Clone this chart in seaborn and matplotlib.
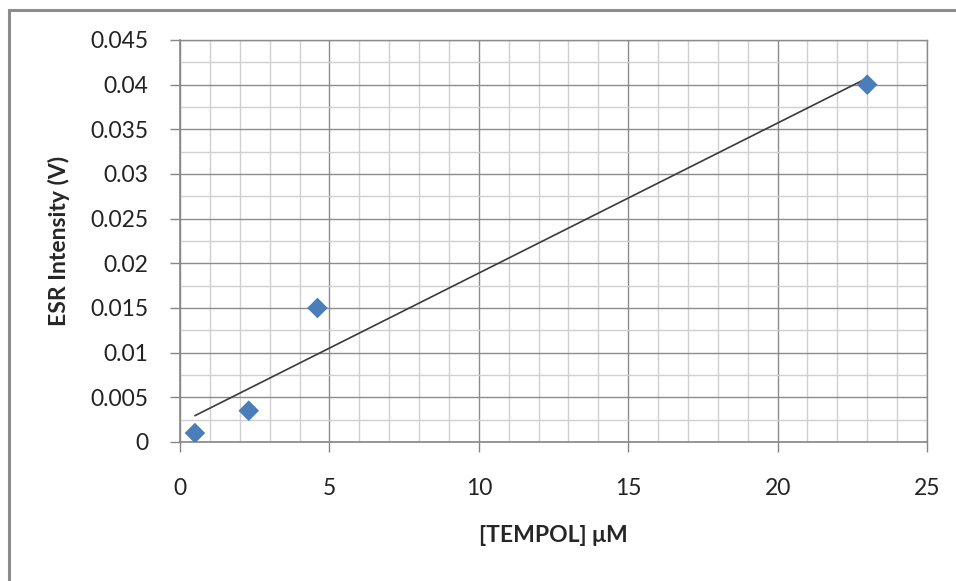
import numpy as np
import pandas as pd
import matplotlib
matplotlib.use('Agg')
import matplotlib.pyplot as plt
import seaborn as sns
from matplotlib.ticker import MultipleLocator, FuncFormatter
from matplotlib.patches import Rectangle

sns.set_style('white')
plt.rcParams['font.family'] = ['Lato', 'DejaVu Sans']

# TEMPOL concentration (uM) vs ESR intensity (V)
tempol_um = [0.5, 2.3, 4.6, 23.0]
esr_v = [0.001, 0.0035, 0.015, 0.040]

df = pd.DataFrame({'tempol': tempol_um, 'esr': esr_v})

fig = plt.figure(figsize=(9.56, 5.81), dpi=100)
ax = fig.add_axes([180 / 956, 1 - 442 / 581, (927 - 180) / 956, (442 - 40) / 581])

# excel style chart frame, only left/top visible in the crop
fig.patches.append(Rectangle((9 / 956, -0.1), 1.2, 1 - 10 / 581 + 0.1,
                             transform=fig.transFigure, fill=False,
                             edgecolor='#8c8c8c', linewidth=2.2, zorder=0))

sns.regplot(data=df, x='tempol', y='esr', ax=ax, ci=None, truncate=True,
            marker='D',
            scatter_kws={'s': 110, 'color': '#4a7ebb', 'alpha': 1,
                         'edgecolor': 'none', 'zorder': 4},
            line_kws={'color': '#3a3a3a', 'linewidth': 1.2, 'zorder': 3})

ax.set_xlim(0, 25)
ax.set_ylim(0, 0.045)
ax.xaxis.set_major_locator(MultipleLocator(5))
ax.xaxis.set_minor_locator(MultipleLocator(1))
ax.yaxis.set_major_locator(MultipleLocator(0.005))
ax.yaxis.set_minor_locator(MultipleLocator(0.0025))
ax.yaxis.set_major_formatter(FuncFormatter(lambda v, p: '%g' % round(v, 4)))

ax.grid(which='major', color='#8c8c8c', linewidth=1.0)
ax.grid(which='minor', color='#d0d0d0', linewidth=1.0)
ax.set_axisbelow(True)

for side in ['top', 'right']:
    ax.spines[side].set_color('#8c8c8c')
    ax.spines[side].set_linewidth(1.0)
for side in ['left', 'bottom']:
    ax.spines[side].set_color('#868686')
    ax.spines[side].set_linewidth(1.2)

ax.tick_params(which='major', direction='out', length=7, width=1, color='#868686',
               labelsize=16.5, labelcolor='#222222', left=True, bottom=True)
ax.tick_params(axis='y', pad=16)
ax.tick_params(axis='x', pad=19)
ax.tick_params(which='minor', length=0)

ax.set_xlabel('[TEMPOL] \u03bcM', fontsize=16.5, fontweight='bold', labelpad=19)
ax.set_ylabel('ESR Intensity (V)', fontsize=16.5, fontweight='bold', labelpad=14)

fig.savefig('out.png', dpi=100)
